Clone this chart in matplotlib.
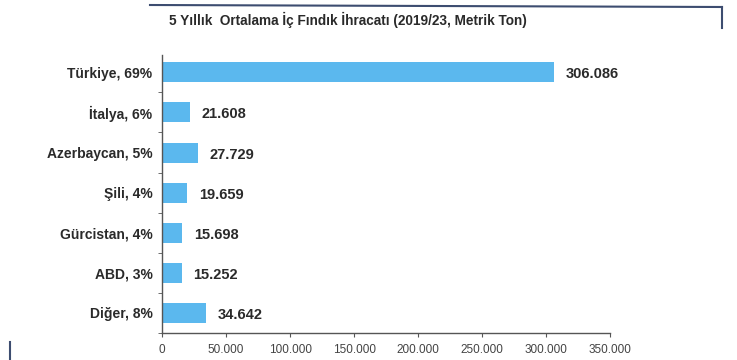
import matplotlib
matplotlib.use("Agg")
import matplotlib.pyplot as plt
from matplotlib.lines import Line2D
from matplotlib.ticker import FixedLocator, FuncFormatter

categories = ["Türkiye, 69%", "İtalya, 6%", "Azerbaycan, 5%", "Şili, 4%",
              "Gürcistan, 4%", "ABD, 3%", "Diğer, 8%"]
values = [306086, 21608, 27729, 19659, 15698, 15252, 34642]
value_labels = ["306.086", "21.608", "27.729", "19.659", "15.698", "15.252", "34.642"]
xticks = [0, 50000, 100000, 150000, 200000, 250000, 300000, 350000]
title = "5 Yıllık  Ortalama İç Fındık İhracatı (2019/23, Metrik Ton)"

plt.rcParams['font.family'] = ['Liberation Sans', 'DejaVu Sans']

fig = plt.figure(figsize=(7.37, 3.6), dpi=100)
ax = fig.add_axes([0.22, 0.075, 0.608, 0.772])

ypos = list(range(len(categories)))
ax.barh(ypos, values, height=0.5, color="#5BB8EE")
for y, v, lab in zip(ypos, values, value_labels):
    ax.text(v + 9000, y + 0.05, lab, va="center", ha="left", fontsize=10.5,
            fontweight="bold", color="#2a2a2a")

ax.set_ylim(len(categories) - 0.5, -0.43)
ax.set_xlim(0, 350000)
ax.set_yticks(ypos)
ax.set_yticklabels(categories, fontsize=10, fontweight="bold", color="#2a2a2a")
ax.yaxis.set_minor_locator(FixedLocator([i + 0.5 for i in range(-1, len(categories))]))
ax.tick_params(axis="y", which="major", length=0, pad=7)
ax.tick_params(axis="y", which="minor", length=3, color="#555555")
ax.set_xticks(xticks)
ax.xaxis.set_major_formatter(FuncFormatter(lambda x, p: f"{int(x):,}".replace(",", ".")))
ax.tick_params(axis="x", length=3, color="#555555", labelsize=8.5, labelcolor="#444444", pad=5)

for s in ["top", "right"]:
    ax.spines[s].set_visible(False)
for s in ["left", "bottom"]:
    ax.spines[s].set_color("#555555")
    ax.spines[s].set_linewidth(1.0)

fig.text(0.472, 0.945, title, ha="center", va="center", fontsize=9.8,
         fontweight="bold", color="#2a2a2a")

navy = "#3d4d70"
fig.add_artist(Line2D([150/737, 722/737], [1 - 5/360, 1 - 7/360], color=navy, lw=1.5))
fig.add_artist(Line2D([722/737, 722/737], [1 - 7/360, 1 - 28/360], color=navy, lw=1.5))
fig.add_artist(Line2D([10/737, 10/737], [1 - 342/360, 0], color=navy, lw=1.5))

fig.savefig("out.png", dpi=100)
